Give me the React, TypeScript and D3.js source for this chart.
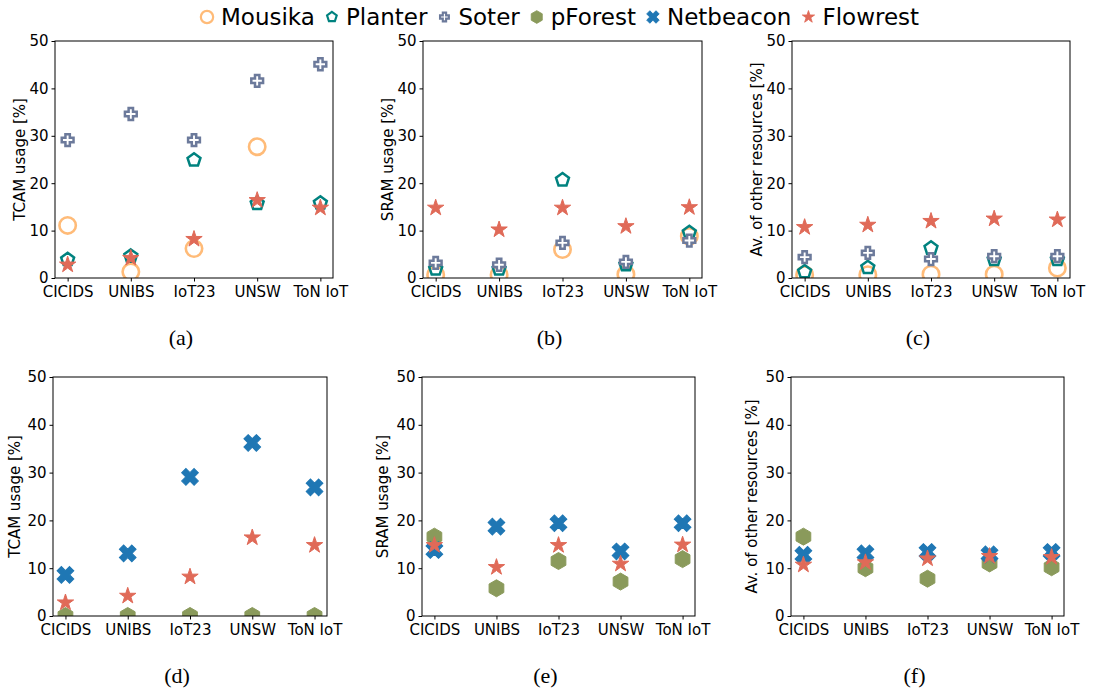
import React, { useEffect, useRef } from 'react';
import * as d3 from 'd3';

const categories = ['CICIDS', 'UNIBS', 'IoT23', 'UNSW', 'ToN IoT'];
const yTicks = [0, 10, 20, 30, 40, 50];

// top row
const mousikaTcam = [11.1, 1.3, 6.2, 27.7, null];
const mousikaSram = [0.7, 0.7, 6.0, 0.8, 8.8];
const mousikaOther = [0.7, 0.7, 0.8, 0.8, 2.1];
const planterTcam = [3.9, 4.6, 24.9, 15.7, 15.8];
const planterSram = [1.9, 1.9, 20.7, 2.8, 9.6];
const planterOther = [1.3, 2.2, 6.3, 3.9, 3.9];
const soterTcam = [29.1, 34.6, 29.1, 41.6, 45.1];
const soterSram = [3.2, 2.8, 7.4, 3.4, 7.9];
const soterOther = [4.4, 5.3, 4.0, 4.6, 4.6];
// bottom row
const pforestTcam = [0, 0, 0, 0, 0];
const pforestSram = [16.6, 5.8, 11.5, 7.2, 11.9];
const pforestOther = [16.6, 10.0, 7.8, 11.0, 10.2];
const netbeaconTcam = [8.6, 13.1, 29.1, 36.2, 26.9];
const netbeaconSram = [13.8, 18.7, 19.4, 13.5, 19.4];
const netbeaconOther = [12.8, 13.1, 13.4, 12.9, 13.4];
// both rows
const flowrestTcam = [2.8, 4.2, 8.2, 16.4, 14.8];
const flowrestSram = [14.8, 10.2, 14.8, 10.9, 14.9];
const flowrestOther = [10.7, 11.2, 12.0, 12.5, 12.3];

const seriesNames = ['Mousika', 'Planter', 'Soter', 'pForest', 'Netbeacon', 'Flowrest'];

const styles: any = {
    Mousika: { shape: 'circle', color: '#ffbb78', fill: 'none', sw: 2.6 },
    Planter: { shape: 'pentagon', color: '#00827f', fill: 'none', sw: 2.5 },
    Soter: { shape: 'plus', color: '#6c7a9b', fill: '#ffffff', sw: 2.5 },
    pForest: { shape: 'hexagon', color: '#8a9a5b', fill: '#8a9a5b', sw: 1 },
    Netbeacon: { shape: 'x', color: '#1f77b4', fill: '#1f77b4', sw: 1 },
    Flowrest: { shape: 'star', color: '#e06a58', fill: '#e06a58', sw: 1 },
};

const panels = [
    { label: '(a)', ylabel: 'TCAM usage [%]', box: [55, 41, 333, 278], series: { Mousika: mousikaTcam, Planter: planterTcam, Soter: soterTcam, Flowrest: flowrestTcam } },
    { label: '(b)', ylabel: 'SRAM usage [%]', box: [423, 41, 702, 278], series: { Mousika: mousikaSram, Planter: planterSram, Soter: soterSram, Flowrest: flowrestSram } },
    { label: '(c)', ylabel: 'Av. of other resources [%]', box: [792, 41, 1070, 278], series: { Mousika: mousikaOther, Planter: planterOther, Soter: soterOther, Flowrest: flowrestOther } },
    { label: '(d)', ylabel: 'TCAM usage [%]', box: [53, 377, 327, 616], series: { pForest: pforestTcam, Netbeacon: netbeaconTcam, Flowrest: flowrestTcam } },
    { label: '(e)', ylabel: 'SRAM usage [%]', box: [422, 377, 695, 616], series: { pForest: pforestSram, Netbeacon: netbeaconSram, Flowrest: flowrestSram } },
    { label: '(f)', ylabel: 'Av. of other resources [%]', box: [791, 377, 1064, 616], series: { pForest: pforestOther, Netbeacon: netbeaconOther, Flowrest: flowrestOther } },
];
const ylabelX = [20, 388, 757, 15, 383, 752];

function polygon(n: number, r: number, inner?: number) {
    const pts: [number, number][] = [];
    const count = inner ? n * 2 : n;
    for (let i = 0; i < count; i++) {
        const a = -Math.PI / 2 + (i * 2 * Math.PI) / count;
        const rr = inner && i % 2 === 1 ? inner : r;
        pts.push([rr * Math.cos(a), rr * Math.sin(a)]);
    }
    return 'M' + pts.map(p => p.join(',')).join('L') + 'Z';
}

function plusPath(s: number, a: number) {
    const p = [[-a, -s], [a, -s], [a, -a], [s, -a], [s, a], [a, a], [a, s], [-a, s], [-a, a], [-s, a], [-s, -a], [-a, -a]];
    return 'M' + p.map(q => q.join(',')).join('L') + 'Z';
}

function markerPath(shape: string, k: number) {
    switch (shape) {
        case 'circle': return d3.arc()({ innerRadius: 0, outerRadius: 8.2 * k, startAngle: 0, endAngle: 2 * Math.PI } as any) as string;
        case 'pentagon': return polygon(5, 6.8 * k);
        case 'hexagon': return polygon(6, 8.5 * k);
        case 'star': return polygon(5, 8.6 * k, 8.6 * k * 0.382);
        case 'plus': return plusPath(5.9 * k, 2.2 * k);
        default: return plusPath(8.8 * k, 3 * k);
    }
}

function drawMarker(g: any, name: string, x: number, y: number, k: number) {
    const st = styles[name];
    g.append('path')
        .attr('d', markerPath(st.shape, k))
        .attr('transform', `translate(${x},${y})` + (st.shape === 'x' ? ' rotate(45)' : ''))
        .attr('fill', st.fill)
        .attr('stroke', st.color)
        .attr('stroke-width', st.sw * (k < 1 ? 0.85 : 1))
        .attr('stroke-linejoin', 'miter');
}

const App = () => {
    const ref = useRef<SVGSVGElement>(null);

    useEffect(() => {
        const svg = d3.select(ref.current);
        svg.selectAll('*').remove();
        const font = 'DejaVu Sans, sans-serif';

        panels.forEach((p, pi) => {
            const [x0, y0, x1, y1] = p.box;
            // matplotlib margins: 0.05 of the data range on each side
            const xs = d3.scaleLinear().domain([-0.2, 4.2]).range([x0, x1]);
            const y = d3.scaleLinear().domain([0, 50]).range([y1, y0]);
            const g = svg.append('g');

            const clipId = 'clip' + pi;
            svg.append('clipPath').attr('id', clipId)
                .append('rect').attr('x', x0).attr('y', y0).attr('width', x1 - x0).attr('height', y1 - y0);

            const marks = g.append('g').attr('clip-path', `url(#${clipId})`);
            seriesNames.forEach(name => {
                const vals = (p.series as any)[name];
                if (!vals) return;
                vals.forEach((v: number | null, i: number) => {
                    if (v === null) return;
                    drawMarker(marks, name, xs(i), y(v), 1);
                });
            });

            g.append('rect')
                .attr('x', x0).attr('y', y0).attr('width', x1 - x0).attr('height', y1 - y0)
                .attr('fill', 'none').attr('stroke', '#000').attr('stroke-width', 1);

            const xAxis = g.append('g').attr('transform', `translate(0,${y1})`)
                .call(d3.axisBottom(xs).tickValues([0, 1, 2, 3, 4]).tickFormat((d: any) => categories[d]).tickSize(3.5).tickPadding(5));
            xAxis.select('.domain').remove();
            xAxis.selectAll('text').attr('font-size', 15).attr('font-family', font).attr('fill', '#000');

            const yAxis = g.append('g').attr('transform', `translate(${x0},0)`)
                .call(d3.axisLeft(y).tickValues(yTicks).tickSize(3.5).tickPadding(3));
            yAxis.select('.domain').remove();
            yAxis.selectAll('text').attr('font-size', 15).attr('font-family', font).attr('fill', '#000');

            g.append('text')
                .attr('transform', `translate(${ylabelX[pi]},${(y0 + y1) / 2}) rotate(-90)`)
                .attr('text-anchor', 'middle')
                .attr('dominant-baseline', 'central')
                .attr('font-family', font)
                .attr('font-size', 15)
                .text(p.ylabel);

            g.append('text')
                .attr('x', (x0 + x1) / 2 - 13)
                .attr('y', pi < 3 ? 345 : 683)
                .attr('text-anchor', 'middle')
                .attr('font-family', 'Liberation Serif, serif')
                .attr('font-size', 22)
                .text(p.label);
        });

        // legend
        const lg = svg.append('g');
        let cx = 207;
        seriesNames.forEach(name => {
            drawMarker(lg, name, cx, 17, 0.75);
            const t = lg.append('text')
                .attr('x', cx + 14)
                .attr('y', 17)
                .attr('dominant-baseline', 'central')
                .attr('font-family', font)
                .attr('font-size', 23)
                .text(name);
            const w = (t.node() as SVGTextElement).getComputedTextLength();
            cx = cx + 14 + w + 17;
        });
    }, []);

    return (
        <svg ref={ref} width={1094} height={693} style={{ display: 'block', position: 'absolute', left: 0, top: 0, background: '#fff' }} />
    );
};

export default App;
